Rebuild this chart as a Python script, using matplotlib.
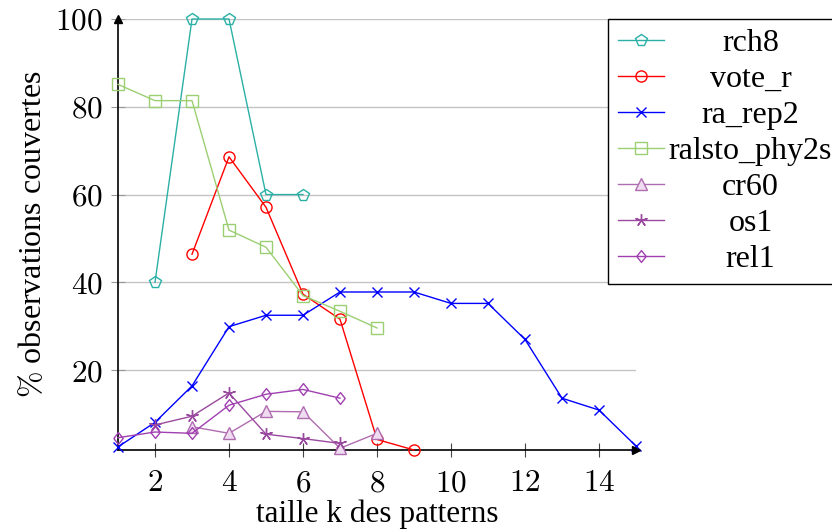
import matplotlib
matplotlib.use("Agg")
import matplotlib.pyplot as plt
from matplotlib.transforms import Affine2D
from matplotlib.ticker import FuncFormatter

plt.rcParams['font.family'] = ['Liberation Serif', 'DejaVu Serif']
plt.rcParams['mathtext.fontset'] = 'cm'

# ---- data ----
rch8_x = [2, 3, 4, 5, 6]
rch8_y = [40.0, 100.0, 100.0, 60.0, 60.0]
vote_r_x = [3, 4, 5, 6, 7, 8, 9]
vote_r_y = [46.4, 68.6, 57.1, 37.3, 31.6, 4.2, 1.8]
ra_rep2_x = [1, 2, 3, 4, 5, 6, 7, 8, 9, 10, 11, 12, 13, 14, 15]
ra_rep2_y = [2.5, 8.1, 16.4, 29.9, 32.5, 32.5, 37.8, 37.8, 37.8, 35.2, 35.2, 27.0, 13.6, 10.9, 2.7]
ralsto_x = [1, 2, 3, 4, 5, 6, 7, 8]
ralsto_y = [85.1, 81.4, 81.4, 51.9, 48.0, 37.0, 33.4, 29.6]
cr60_x = [3, 4, 5, 6, 7, 8]
cr60_y = [7.1, 5.6, 10.6, 10.5, 2.2, 5.6]
os1_x = [2, 3, 4, 5, 6, 7]
os1_y = [7.5, 9.5, 14.8, 5.4, 4.4, 3.3]
rel1_x = [1, 2, 3, 4, 5, 6, 7]
rel1_y = [4.6, 5.9, 5.6, 12.0, 14.5, 15.6, 13.6]

labels = ['rch8', 'vote_r', 'ra_rep2', 'ralsto_phy2s', 'cr60', 'os1', 'rel1']
xticks = [2, 4, 6, 8, 10, 12, 14]
yticks = [20, 40, 60, 80, 100]

series = [
    (rch8_x, rch8_y, '#2bb0a6', 'p', 8.5, 'none'),
    (vote_r_x, vote_r_y, '#ff0000', 'o', 8, 'none'),
    (ra_rep2_x, ra_rep2_y, '#0000ff', 'x', 6.5, 'none'),
    (ralsto_x, ralsto_y, '#9ccf72', 's', 8, 'none'),
    (cr60_x, cr60_y, '#b06cb0', '^', 8, '#f0dcf0'),
    (os1_x, os1_y, '#9a4a9e', (5, 2, 0), 9, 'none'),
    (rel1_x, rel1_y, '#a040b0', [(-0.8, 0), (0, 1), (0.8, 0), (0, -1), (-0.8, 0)], 8.5, 'none'),
]

fig = plt.figure(figsize=(8.32, 5.32), dpi=100)
ax = fig.add_axes([118/832, 1-450/532, 518/832, 431/532])

handles = []
for (x, y, c, m, ms, fc), lab in zip(series, labels):
    h, = ax.plot(x, y, color=c, lw=1.0, marker=m, markersize=ms,
                 markerfacecolor=fc, markeredgecolor=c, markeredgewidth=1.0,
                 label=lab, clip_on=False, zorder=3)
    handles.append(h)

allx = [v for s in series for v in s[0]]
ally = [v for s in series for v in s[1]]
ax.set_xlim(min(allx), max(allx))
ax.set_ylim(min(ally), max(ally))

ax.set_xticks(xticks)
ax.set_yticks(yticks)
ax.xaxis.set_major_formatter(FuncFormatter(lambda v, p: f"${v:g}$"))
ax.yaxis.set_major_formatter(FuncFormatter(lambda v, p: f"${v:g}$"))
ax.tick_params(axis='x', direction='inout', length=10, width=0.8, color='#444444',
               labelsize=22.5, pad=9)
ax.tick_params(axis='y', direction='inout', length=10, width=0.8, color='#999999',
               labelsize=22.5, pad=6)

ax.grid(axis='y', color='#c4c4c4', lw=1.0, zorder=0)
ax.set_axisbelow(True)

for s in ['top', 'right']:
    ax.spines[s].set_visible(False)
for s in ['left', 'bottom']:
    ax.spines[s].set_linewidth(1.2)
    ax.spines[s].set_zorder(2.5)

ax.plot(1, 0, marker='>', color='k', markersize=6, transform=ax.transAxes, clip_on=False, zorder=4)
ax.plot(0, 1, marker='^', color='k', markersize=6, transform=ax.transAxes, clip_on=False, zorder=4)

ax.set_xlabel('taille k des patterns', fontsize=22.5, labelpad=1)
ax.set_ylabel(r'$\%$ observations couvertes', fontsize=23, labelpad=5)

leg = ax.legend(handles=handles, loc='upper left', bbox_to_anchor=(608/832, 1-19/532),
                bbox_transform=fig.transFigure, borderaxespad=0, fontsize=23,
                frameon=True, fancybox=False, framealpha=1, edgecolor='black',
                handlelength=1.44, handletextpad=0.16, borderpad=0.3, labelspacing=0.21)
leg.get_frame().set_linewidth(1.0)

# center legend texts like pgfplots
fig.canvas.draw()
r = fig.canvas.get_renderer()
texts = leg.get_texts()
widths = [t.get_window_extent(r).width for t in texts]
wmax = max(widths)
for t, w in zip(texts, widths):
    t.set_transform(t.get_transform() + Affine2D().translate((wmax - w) / 2, 0))

fig.savefig('out.png', dpi=100)
